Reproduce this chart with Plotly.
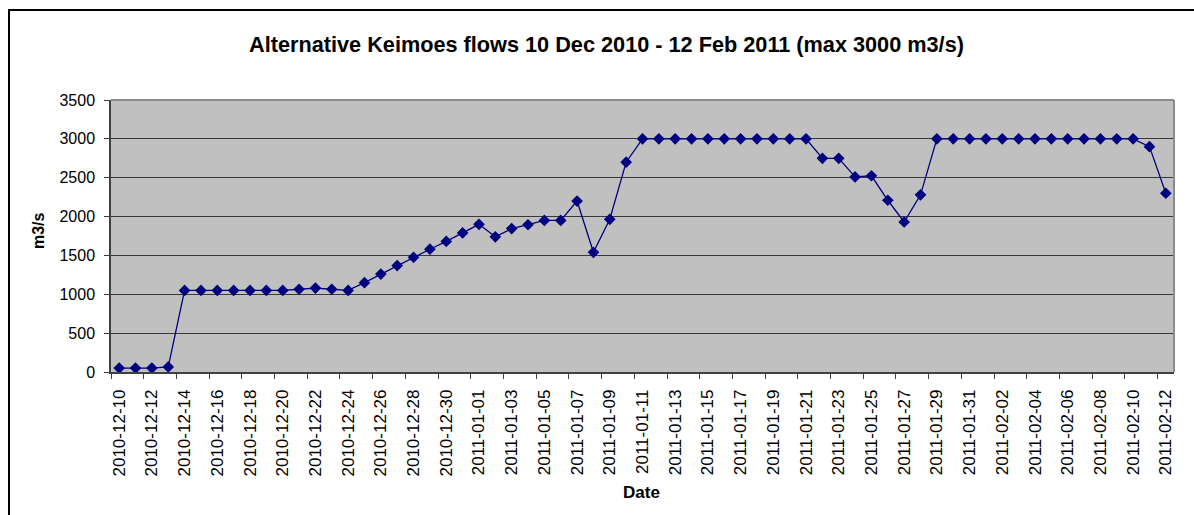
import plotly.graph_objects as go

dates = [
    "2010-12-10", "2010-12-11", "2010-12-12", "2010-12-13", "2010-12-14", "2010-12-15",
    "2010-12-16", "2010-12-17", "2010-12-18", "2010-12-19", "2010-12-20", "2010-12-21",
    "2010-12-22", "2010-12-23", "2010-12-24", "2010-12-25", "2010-12-26", "2010-12-27",
    "2010-12-28", "2010-12-29", "2010-12-30", "2010-12-31",
    "2011-01-01", "2011-01-02", "2011-01-03", "2011-01-04", "2011-01-05", "2011-01-06",
    "2011-01-07", "2011-01-08", "2011-01-09", "2011-01-10", "2011-01-11", "2011-01-12",
    "2011-01-13", "2011-01-14", "2011-01-15", "2011-01-16", "2011-01-17", "2011-01-18",
    "2011-01-19", "2011-01-20", "2011-01-21", "2011-01-22", "2011-01-23", "2011-01-24",
    "2011-01-25", "2011-01-26", "2011-01-27", "2011-01-28", "2011-01-29", "2011-01-30",
    "2011-01-31",
    "2011-02-01", "2011-02-02", "2011-02-03", "2011-02-04", "2011-02-05", "2011-02-06",
    "2011-02-07", "2011-02-08", "2011-02-09", "2011-02-10", "2011-02-11", "2011-02-12",
]

flows = [
    50, 50, 50, 65, 1050, 1050, 1050, 1050, 1050, 1050, 1050, 1065,
    1080, 1065, 1050, 1150, 1260, 1370, 1475, 1580, 1680, 1790,
    1900, 1740, 1845, 1895, 1950, 1950, 2200, 1540, 1965, 2700,
    3000, 3000, 3000, 3000, 3000, 3000, 3000, 3000, 3000, 3000, 3000,
    2750, 2750, 2510, 2525, 2210, 1930, 2280, 3000, 3000, 3000,
    3000, 3000, 3000, 3000, 3000, 3000, 3000, 3000, 3000, 3000, 2900, 2300,
]

tick_labels = dates[::2]
y_ticks = [0, 500, 1000, 1500, 2000, 2500, 3000, 3500]

title_text = "Alternative Keimoes flows 10 Dec 2010 - 12 Feb 2011 (max 3000 m3/s)"
x_title = "Date"
y_title = "m3/s"

W, H = 1194, 515
L, R, T, B = 111, 20, 100, 143
pw, ph = W - L - R, H - T - B

def px_x(p):
    return (p - L) / pw

def px_y(p):
    return 1 - (p - T) / ph

FONT = "Liberation Sans, Arial, sans-serif"

fig = go.Figure()
fig.add_trace(go.Scatter(
    x=dates, y=flows, mode="lines+markers",
    line=dict(color="#000080", width=1.3),
    marker=dict(symbol="diamond", size=9, color="#000080"),
    showlegend=False,
))

fig.update_layout(
    width=W, height=H,
    margin=dict(l=L, r=R, t=T, b=B, pad=0),
    paper_bgcolor="white",
    plot_bgcolor="#C0C0C0",
    font=dict(family=FONT, color="black"),
    title=dict(text="<b>" + title_text + "</b>", x=(248 + 965) / 2 / W, xanchor="center",
               y=1 - 44 / H, yanchor="middle", yref="container",
               font=dict(size=21.7, family=FONT, color="black")),
    xaxis=dict(
        type="date",
        range=["2010-12-09 12:00", "2011-02-12 12:00"],
        tickmode="array", tickvals=tick_labels, ticktext=tick_labels,
        tickangle=-90, ticks="", showgrid=False,
        tickfont=dict(size=17, family=FONT, color="black"),
        ticklabelstandoff=9,
        showline=True, linecolor="#404040", linewidth=1.5,
        minor=dict(tick0="2010-12-09 12:00", dtick=2 * 86400000, ticks="outside",
                   ticklen=5, tickcolor="#404040", tickwidth=1, showgrid=False),
        zeroline=False,
    ),
    yaxis=dict(
        range=[0, 3500], tickmode="array", tickvals=y_ticks,
        ticks="outside", ticklen=5, tickcolor="#404040",
        tickfont=dict(size=16, family=FONT, color="black"),
        ticklabelstandoff=6,
        showgrid=True, gridcolor="#383838", gridwidth=1,
        showline=True, linecolor="#404040", linewidth=1.5,
        zeroline=False,
    ),
    annotations=[
        dict(text="<b>" + x_title + "</b>", xref="paper", yref="paper",
             x=px_x(641), y=px_y(492), xanchor="center", yanchor="middle",
             showarrow=False, font=dict(size=17, family=FONT, color="black")),
        dict(text="<b>" + y_title + "</b>", xref="paper", yref="paper",
             x=px_x(38), y=px_y(231), xanchor="center", yanchor="middle",
             textangle=-90, showarrow=False, font=dict(size=16, family=FONT, color="black")),
    ],
    shapes=[
        dict(type="rect", xref="paper", yref="paper",
             x0=px_x(9), x1=px_x(1260), y0=px_y(600), y1=px_y(10),
             line=dict(color="black", width=2), fillcolor="rgba(0,0,0,0)", layer="above"),
        dict(type="line", xref="paper", yref="paper", x0=0, x1=1, y0=1, y1=1,
             line=dict(color="#8c8c8c", width=2), layer="above"),
        dict(type="line", xref="paper", yref="paper", x0=1, x1=1, y0=0, y1=1,
             line=dict(color="#8c8c8c", width=2), layer="above"),
    ],
)

fig.write_html("out.html")
